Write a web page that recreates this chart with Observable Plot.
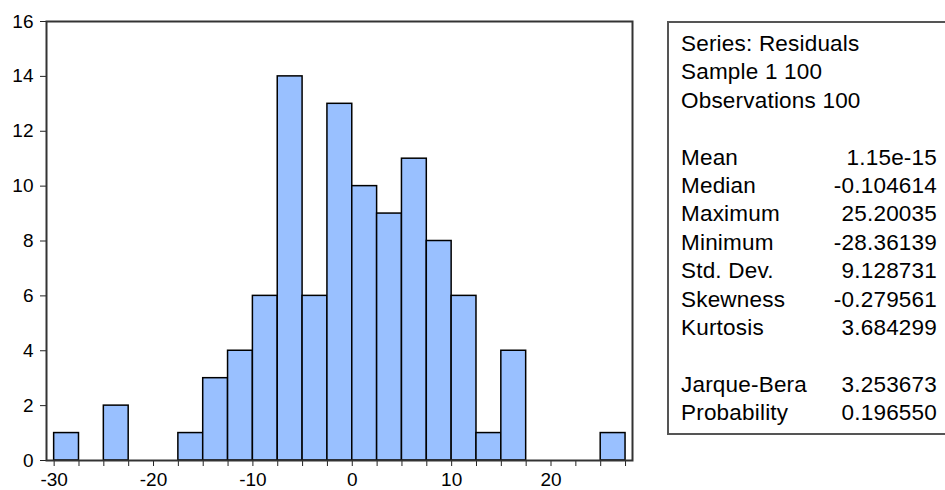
<!DOCTYPE html>
<html>
<head>
<meta charset="utf-8">
<script src="https://cdn.jsdelivr.net/npm/d3@7"></script>
<script src="https://cdn.jsdelivr.net/npm/@observablehq/plot@0.6"></script>
<style>
  html, body { margin: 0; padding: 0; background: #fff; overflow: hidden; }
  #wrap { position: relative; width: 945px; height: 490px; font-family: "Liberation Sans", Arial, sans-serif; }
  #stats { position: absolute; left: 667px; top: 21px; width: 320px; height: 414px; border: 2px solid #555; box-sizing: border-box; }
  .row { position: absolute; left: 12px; width: 256px; font-size: 22.5px; color: #000; line-height: 1; letter-spacing: 0.2px; }
  .row .v { position: absolute; right: 0; top: 0; }
</style>
</head>
<body>
<div id="wrap"><div id="chart"></div><div id="stats"></div></div>
<script>
// Histogram bins (left edges, width 2.5) and counts
const binStart = [-30, -27.5, -25, -22.5, -20, -17.5, -15, -12.5, -10, -7.5, -5, -2.5, 0, 2.5, 5, 7.5, 10, 12.5, 15, 17.5, 20, 22.5, 25];
const binEnd   = [-27.5, -25, -22.5, -20, -17.5, -15, -12.5, -10, -7.5, -5, -2.5, 0, 2.5, 5, 7.5, 10, 12.5, 15, 17.5, 20, 22.5, 25, 27.5];
const counts   = [1, 0, 2, 0, 0, 1, 3, 4, 6, 14, 6, 13, 10, 9, 11, 8, 6, 1, 4, 0, 0, 0, 1];

const xTicks = [-30, -27.5, -25, -22.5, -20, -17.5, -15, -12.5, -10, -7.5, -5, -2.5, 0, 2.5, 5, 7.5, 10, 12.5, 15, 17.5, 20, 22.5, 25, 27.5];
const xLabels = [-30, -20, -10, 0, 10, 20];
const yTicks = [0, 2, 4, 6, 8, 10, 12, 14, 16];

// Statistics panel
const headerLines = ["Series: Residuals", "Sample 1 100", "Observations 100"];
const statNames = ["Mean", "Median", "Maximum", "Minimum", "Std. Dev.", "Skewness", "Kurtosis"];
const statValues = ["1.15e-15", "-0.104614", "25.20035", "-28.36139", "9.128731", "-0.279561", "3.684299"];
const testNames = ["Jarque-Bera", "Probability"];
const testValues = ["3.253673", "0.196550"];

const bins = binStart.map((s, i) => ({x1: s, x2: binEnd[i], y: counts[i]})).filter(d => d.y > 0);

const chart = Plot.plot({
  width: 945,
  height: 490,
  marginLeft: 46,
  marginRight: 313,
  marginTop: 21,
  marginBottom: 30,
  style: {fontSize: "19px", fontFamily: "'Liberation Sans', Arial, sans-serif", color: "#000", background: "#fff"},
  x: {domain: [-30.77, 28.2]},
  y: {domain: [0, 16]},
  marks: [
    Plot.rectY(bins, {x1: "x1", x2: "x2", y: "y", fill: "#99c0ff", stroke: "#000", strokeWidth: 1.5, inset: 0}),
    Plot.axisX({ticks: xTicks, tickSize: 6, tickPadding: 6, tickFormat: d => xLabels.includes(d) ? String(d) : "", label: null, stroke: "#222"}),
    Plot.axisY({ticks: yTicks, tickSize: 6, tickPadding: 7, label: null, stroke: "#222"}),
    Plot.frame({stroke: "#333", strokeWidth: 2})
  ]
});
document.getElementById("chart").appendChild(chart);

// Build the stats panel
const stats = document.getElementById("stats");
const step = 28.4;
const firstBaseline = 53.3 - 21 - 2; // relative to panel content box
function addRow(k, label, value) {
  const r = document.createElement("div");
  r.className = "row";
  r.style.top = (firstBaseline + k * step - 22.5 * 0.9) + "px";
  r.textContent = label;
  if (value !== undefined) {
    const v = document.createElement("span");
    v.className = "v";
    v.textContent = value;
    r.appendChild(v);
  }
  stats.appendChild(r);
}
headerLines.forEach((t, i) => addRow(i, t));
statNames.forEach((t, i) => addRow(4 + i, t, statValues[i]));
testNames.forEach((t, i) => addRow(12 + i, t, testValues[i]));
</script>
</body>
</html>
